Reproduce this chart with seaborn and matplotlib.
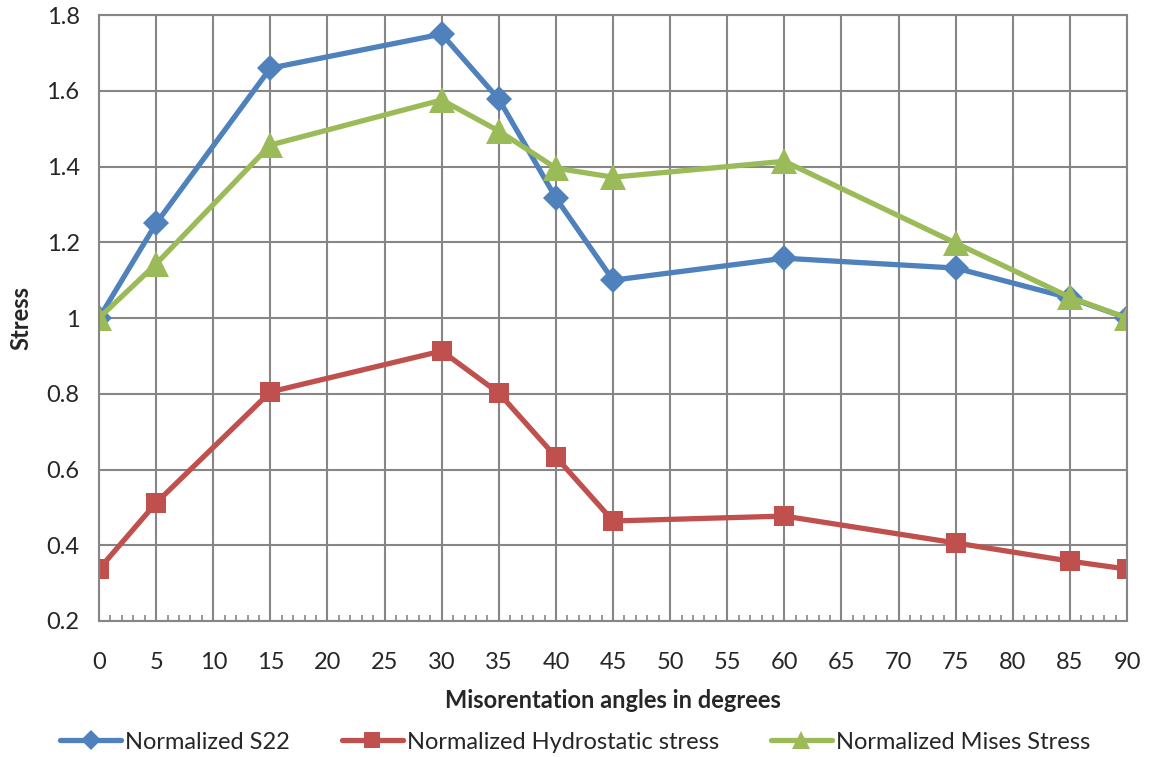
import numpy as np
import pandas as pd
import seaborn as sns
import matplotlib.pyplot as plt
from matplotlib.ticker import MultipleLocator

angles = [0, 5, 15, 30, 35, 40, 45, 60, 75, 85, 90]
s22 = [1.0, 1.25, 1.66, 1.75, 1.578, 1.317, 1.10, 1.158, 1.132, 1.053, 1.0]
hydro = [0.337, 0.512, 0.805, 0.913, 0.802, 0.633, 0.464, 0.477, 0.406, 0.358, 0.337]
mises = [1.0, 1.143, 1.457, 1.576, 1.494, 1.396, 1.372, 1.414, 1.198, 1.055, 1.0]

names = ["Normalized S22", "Normalized Hydrostatic stress", "Normalized Mises Stress"]
df = pd.DataFrame({
    "Angle": angles * 3,
    "Stress": s22 + hydro + mises,
    "Series": [names[0]] * len(angles) + [names[1]] * len(angles) + [names[2]] * len(angles),
})

sns.set_style("white")
plt.rcParams["font.family"] = ["Lato", "DejaVu Sans"]
grid_c = "#868686"
fs = 17

fig = plt.figure(figsize=(11.53, 7.57), dpi=100)
ax = fig.add_axes([0.0859, 0.1797, 0.8916, 0.8003])

sns.lineplot(data=df, x="Angle", y="Stress", hue="Series", style="Series",
             palette=["#4F81BD", "#C0504D", "#9BBB59"],
             markers=["D", "s", "^"], dashes=False, linewidth=3.8,
             markeredgewidth=0, ax=ax)
# Excel-like marker sizes per series
for ln, ms in zip(ax.lines[:3], [13, 15, 19]):
    ln.set_markersize(ms)

ax.set_xlim(0, 90)
ax.set_ylim(0.2, 1.8)
ax.xaxis.set_major_locator(MultipleLocator(5))
ax.xaxis.set_minor_locator(MultipleLocator(1))
yt = np.arange(0.2, 1.81, 0.2).round(1)
ax.set_yticks(yt)
ax.set_yticklabels([f"{v:g}" for v in yt])
ax.grid(True, which="major", color=grid_c, linewidth=1.5)
ax.set_axisbelow(True)
for sp in ax.spines.values():
    sp.set_color(grid_c)
    sp.set_linewidth(1.5)
ax.tick_params(axis="x", which="major", length=0, labelsize=fs, pad=22)
ax.tick_params(axis="x", which="minor", direction="in", length=4, color=grid_c, width=1.2, bottom=True)
ax.tick_params(axis="y", which="major", length=0, labelsize=fs, pad=14)

ax.set_xlabel("Misorentation angles in degrees", fontsize=fs, fontweight="bold", labelpad=12)
ax.set_ylabel("Stress", fontsize=fs, fontweight="bold", labelpad=10)

leg = ax.legend(loc="center", bbox_to_anchor=(0.463, -0.2), ncol=3, frameon=False,
                fontsize=fs, handlelength=2.6, handletextpad=0.15, columnspacing=2.2)
for h, ms in zip(leg.legend_handles, [10, 11, 13]):
    h.set_markersize(ms)

fig.savefig("out.png", dpi=100)
